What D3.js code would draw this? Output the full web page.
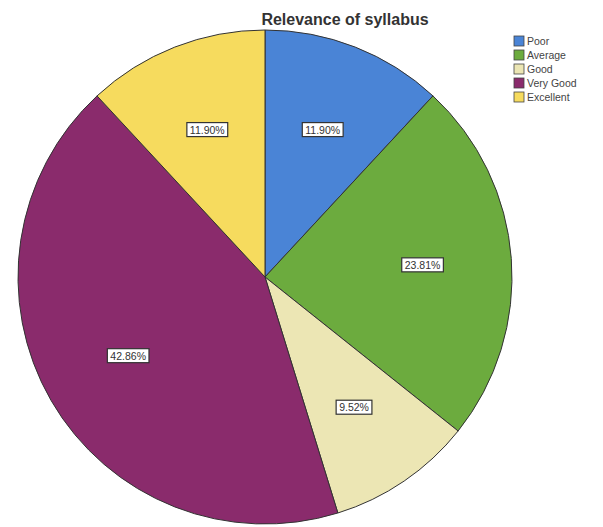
<!DOCTYPE html>
<html>
<head>
<meta charset="utf-8">
<script src="https://cdn.jsdelivr.net/npm/d3@7"></script>
<style>
  body { margin: 0; background: #fff; }
  text { font-family: Arial, "Liberation Sans", sans-serif; }
</style>
</head>
<body>
<div id="chart"></div>
<script>
const width = 603
    height = 527;

// Data: ratings, share of respondents (%)
const categories = ["Poor", "Average", "Good", "Very Good", "Excellent"];
const percents = [11.90, 23.81, 9.52, 42.86, 11.90];
const colors = ["#4a84d6", "#6cab3e", "#ece6b4", "#8a2b6c", "#f6db5e"];

const cx = 265
    cy = 277
    radius = 247
    labelRadius = 158;

let svg = d3.select("div#chart").append("svg")
    .attr("width", width)
    .attr("height", height);

// Title
svg.append("text")
    .attr("x", 345)
    .attr("y", 25)
    .attr("text-anchor", "middle")
    .attr("font-size", 16)
    .attr("font-weight", "bold")
    .attr("fill", "#333")
    .text("Relevance of syllabus");

let color = d3.scaleOrdinal()
    .domain(categories)
    .range(colors);

let pie = d3.pie()
    .sort(null)
    .value(d => d.value);

let arc = d3.arc()
    .innerRadius(0)
    .outerRadius(radius);

let labelArc = d3.arc()
    .innerRadius(labelRadius)
    .outerRadius(labelRadius);

let data = categories.map((c, i) => ({name: c, value: percents[i]}));
let arcs = pie(data);

let g = svg.append("g")
    .attr("transform", `translate(${cx}, ${cy})`);

g.selectAll("path.slice")
    .data(arcs)
    .join("path")
    .attr("class", "slice")
    .attr("d", arc)
    .attr("fill", d => color(d.data.name))
    .attr("stroke", "#333")
    .attr("stroke-width", 1);

// Percent labels in boxes
let labels = g.selectAll("g.label")
    .data(arcs)
    .join("g")
    .attr("class", "label")
    .attr("transform", d => `translate(${labelArc.centroid(d)})`);

labels.append("text")
    .attr("text-anchor", "middle")
    .attr("dy", "0.35em")
    .attr("font-size", 10.5)
    .attr("fill", "#333")
    .text(d => d.data.value.toFixed(2) + "%");

labels.each(function () {
    let grp = d3.select(this);
    let bb = grp.select("text").node().getBBox();
    grp.insert("rect", "text")
        .attr("x", bb.x - 3)
        .attr("y", bb.y - 1)
        .attr("width", bb.width + 6)
        .attr("height", bb.height + 2)
        .attr("fill", "#fff")
        .attr("stroke", "#333")
        .attr("stroke-width", 1.2);
});

// Legend
let legend = svg.append("g")
    .attr("transform", "translate(514, 36)");

let y = d3.scaleBand()
    .domain(categories)
    .range([0, 70]);

let items = legend.selectAll("g")
    .data(categories)
    .join("g")
    .attr("transform", d => `translate(0, ${y(d)})`);

items.append("rect")
    .attr("width", 10)
    .attr("height", 10)
    .attr("fill", d => color(d))
    .attr("stroke", "#444")
    .attr("stroke-width", 0.8);

items.append("text")
    .attr("x", 13)
    .attr("y", 5)
    .attr("dy", "0.35em")
    .attr("font-size", 10.5)
    .attr("fill", "#444")
    .text(d => d);
</script>
</body>
</html>
